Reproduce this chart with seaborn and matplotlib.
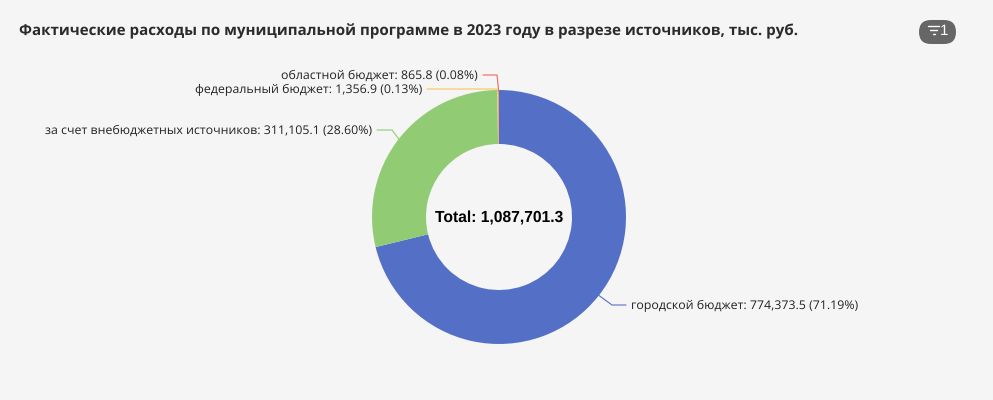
#!/usr/bin/env python3
"""Donut chart of 2023 municipal programme spending by funding source."""

import numpy as np
import matplotlib
matplotlib.use("Agg")
import matplotlib.pyplot as plt
from matplotlib.patches import FancyBboxPatch
import seaborn as sns

sources = ["городской бюджет", "за счет внебюджетных источников",
           "федеральный бюджет", "областной бюджет"]
values = [774373.5, 311105.1, 1356.9, 865.8]
shares = [71.19, 28.60, 0.13, 0.08]
colors = ["#5470c6", "#91cc75", "#fac858", "#ee6666"]
total = 1087701.3
title = "Фактические расходы по муниципальной программе в 2023 году в разрезе источников, тыс. руб."

BG = "#f5f5f5"
W, H = 993, 400
CX, CY, R, R_IN = 499, 217, 127, 73

# elbow and end of each leader line, in pixels from the top left
leaders = [((612, 305), (626, 305)), ((392, 130), (377, 130)),
           ((497, 89), (427, 89)), ((497, 75), (483, 75))]

sns.set_theme(style="white", rc={"figure.facecolor": BG, "axes.facecolor": BG})
plt.rcParams["font.family"] = ["Open Sans", "DejaVu Sans"]
plt.rcParams["text.hinting"] = "no_hinting"

fig = plt.figure(figsize=(W / 100, H / 100), dpi=100)
ax = fig.add_axes([0, 0, 1, 1])

ax.pie(values, colors=sns.color_palette(colors), startangle=90, counterclock=False,
       center=(CX, H - CY), radius=R, frame=True,
       wedgeprops={"width": R - R_IN, "linewidth": 0})
ax.set_xlim(0, W)
ax.set_ylim(0, H)
ax.set_aspect("equal")
ax.axis("off")

# leader lines and labels
fractions = np.array(values) / sum(values)
starts = np.cumsum(fractions) - fractions
for i, name in enumerate(sources):
    angle = 2 * np.pi * (starts[i] + fractions[i] / 2)
    x0 = CX + (R - 1) * np.sin(angle)
    y0 = CY - (R - 1) * np.cos(angle)
    elbow, end = leaders[i]
    ax.plot([x0, elbow[0], end[0]], [H - y0, H - elbow[1], H - end[1]],
            color=colors[i], lw=0.8, solid_joinstyle="miter", zorder=1)
    ha = "left" if end[0] > CX else "right"
    offset = 5 if end[0] > CX else -5
    ax.text(end[0] + offset, H - end[1] - 0.5, f"{name}: {values[i]:,.1f} ({shares[i]:.2f}%)",
            ha=ha, va="center", fontsize=8.9, color="#222222")

ax.text(CX, H - CY - 1, f"Total: {total:,.1f}", ha="center", va="center",
        fontsize=11.25, fontweight="bold", color="black", family=["Liberation Sans"])

ax.text(19, H - 31.5, title, ha="left", va="center", fontsize=10.9,
        fontweight="bold", color="#2b2b2b")

# filter badge in the top right corner
ax.add_patch(FancyBboxPatch((931, H - 32 - 0.01), 13, 0.02,
                            boxstyle="round,pad=12,rounding_size=12",
                            facecolor="#666666", edgecolor="none"))
for half, yy in zip([5.5, 3.5, 1], [26, 30, 34]):
    ax.plot([933.5 - half, 933.5 + half], [H - yy, H - yy], color="white", lw=1)
ax.text(944, H - 31, "1", ha="center", va="center", fontsize=11, color="white",
        family=["Liberation Sans"], zorder=5)

fig.savefig("out.png", dpi=100, facecolor=BG)
